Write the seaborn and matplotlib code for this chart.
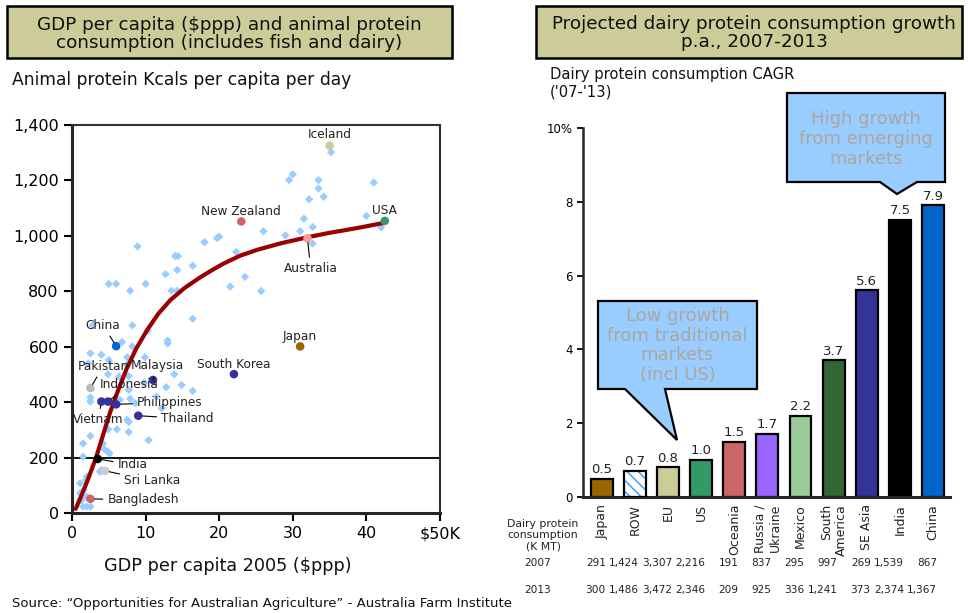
import matplotlib
matplotlib.use("Agg")
import matplotlib.pyplot as plt
import numpy as np
import pandas as pd
import seaborn as sns
from matplotlib.patches import Polygon, Rectangle
from matplotlib.ticker import FuncFormatter
from matplotlib.transforms import blended_transform_factory

# ---- left panel data: GDP per capita (K $ppp) vs animal protein kcals ----
bg_gdp = [35.2, 30.0, 29.5, 33.5, 33.5, 34.2, 32.2, 41.0, 40.0, 42.0, 31.5, 32.7,
          31.0, 29.0, 32.7, 26.0, 20.0, 19.7, 18.0, 22.3, 16.4, 23.5, 21.5, 25.7,
          8.9, 14.0, 14.4, 12.7, 14.3, 5.0, 6.0, 7.9, 10.0, 13.5, 14.3,
          16.4, 2.8, 8.2, 10.3, 13.0, 13.0, 6.8, 8.2, 2.5, 4.0, 5.0, 7.5, 9.9,
          4.9, 7.7, 13.9, 14.9, 16.4, 12.8, 12.2, 2.5, 2.5, 6.5, 7.9, 7.7, 8.6,
          7.5, 7.7, 4.9, 6.1, 7.7, 2.5, 1.5, 4.2, 4.4, 4.9, 5.1, 1.5, 10.4, 4.0,
          3.8, 2.0, 1.1, 1.9, 1.6, 1.1, 2.0, 1.3, 1.1, 1.5, 2.0, 2.5,
          6.4, 2.2, 7.5, 9.8, 11.5]
bg_kcal = [1302, 1222, 1201, 1201, 1171, 1141, 1132, 1192, 1072, 1031, 1062, 1032,
           1017, 1002, 972, 1017, 997, 992, 977, 942, 892, 852, 817, 801,
           962, 927, 927, 862, 877, 827, 827, 802, 827, 802, 802,
           701, 677, 677, 657, 622, 612, 617, 601, 576, 571, 552, 562, 562,
           501, 494, 501, 462, 441, 454, 378, 417, 402, 408, 412, 444, 396,
           336, 329, 302, 302, 292, 278, 251, 251, 230, 220, 215, 203, 263, 155,
           149, 131, 107, 119, 83, 71, 59, 47, 47, 23, 23, 23,
           492, 540, 534, 470, 420]

countries = ["Iceland", "New Zealand", "USA", "Australia", "Japan", "South Korea",
             "China", "Pakistan", "Malaysia", "Indonesia", "Vietnam", "Philippines",
             "Thailand", "India", "Sri Lanka", "Bangladesh"]
country_gdp = [35.0, 23.0, 42.5, 32.0, 31.0, 22.0, 6.0, 2.5, 11.0, 4.9, 4.0, 6.0,
               9.0, 3.5, 4.5, 2.5]
country_kcal = [1325, 1052, 1054, 991, 601, 501, 602, 451, 480, 402, 402, 392,
                351, 195, 152, 51]
country_colors = ["#cccc99", "#cc6666", "#339966", "#ff9999", "#996600", "#333399",
                  "#0066cc", "#bbbbbb", "#333399", "#333399", "#333399", "#333399",
                  "#333399", "#000000", "#cccccc", "#cc6666"]
# label offsets in pixels (dx, dy), alignment, and whether a leader line is drawn
label_dx = [0, 0, 0, 3, -1, 0, -13, 13, 4, 21, -3, 21, 23, 20, 19, 17]
label_dy = [11, 10, 10, -30, 10, 10, 21, 22, 14, 17, -18, 2, -3, -6, -10, -1]
label_ha = ["center"] * 11 + ["left"] * 5
label_leader = [False, False, False, True, False, False, True, True, True, True,
                True, True, True, True, True, True]

trend_gdp = [0.5, 1.2, 2.0, 2.6, 3.3, 4.2, 5.2, 6.3, 7.45, 8.7, 10.2, 11.7, 13.35,
             15.3, 17.4, 19.0, 20.6, 22.8, 25.2, 28.5, 32.0, 35.0, 37.0, 39.5, 42.4]
trend_kcal = [15, 58, 110, 152, 203, 280, 365, 445, 522, 592, 660, 718, 768,
              812, 850, 876, 900, 928, 950, 974, 995, 1011, 1020, 1032, 1047]

# ---- right panel data: dairy protein CAGR '07-'13 ----
regions = ["Japan", "ROW", "EU", "US", "Oceania", "Russia /\nUkraine", "Mexico",
           "South\nAmerica", "SE Asia", "India", "China"]
cagr = [0.5, 0.7, 0.8, 1.0, 1.5, 1.7, 2.2, 3.7, 5.6, 7.5, 7.9]
bar_colors = ["#996600", "#ffffff", "#cccc99", "#339966", "#cc6666", "#9966ff",
              "#99cc99", "#336633", "#333399", "#000000", "#0066cc"]
kmt_2007 = ["291", "1,424", "3,307", "2,216", "191", "837", "295", "997", "269",
            "1,539", "867"]
kmt_2013 = ["300", "1,486", "3,472", "2,346", "209", "925", "336", "1,241", "373",
            "2,374", "1,367"]

W, H = 968, 613
sns.set_theme(style="ticks")
plt.rcParams["font.family"] = ["DejaVu Sans"]
plt.rcParams["hatch.linewidth"] = 1.0
fig = plt.figure(figsize=(W / 100, H / 100), dpi=100)


def fx(x):
    return x / W


def fy(y):
    return 1 - y / H


# ================= left panel =================
ax = fig.add_axes([fx(72), fy(513), (440 - 72) / W, (513 - 125) / H])
sns.scatterplot(x=bg_gdp, y=bg_kcal, marker="D", s=18, color="#99ccff",
                edgecolor="none", ax=ax, zorder=2)
sns.lineplot(x=trend_gdp, y=trend_kcal, color="#990000", linewidth=3,
             estimator=None, ax=ax, zorder=3)
ax.axhline(200, color="black", linewidth=1.3, zorder=1)
sns.scatterplot(x=country_gdp, y=country_kcal, hue=countries,
                palette=dict(zip(countries, country_colors)), s=38,
                edgecolor="none", legend=False, ax=ax, zorder=4)
for name, gx, gy, dx, dy, ha, lead in zip(countries, country_gdp, country_kcal,
                                           label_dx, label_dy, label_ha, label_leader):
    ax.annotate(name, xy=(gx, gy), xytext=(dx, dy), textcoords="offset pixels",
                ha=ha, va="center", fontsize=8.7, color="#222222", zorder=5,
                arrowprops=dict(arrowstyle="-", color="black", lw=0.8,
                                shrinkA=1, shrinkB=3) if lead else None)

ax.set_xlim(0, 50)
ax.set_ylim(0, 1400)
ax.set_xticks([0, 10, 20, 30, 40, 50])
ax.set_xticklabels(["0", "10", "20", "30", "40", "$50K"])
ax.set_yticks(range(0, 1401, 200))
ax.yaxis.set_major_formatter(FuncFormatter(lambda v, p: f"{int(v):,}"))
ax.tick_params(axis="both", direction="out", length=6, width=1.5, labelsize=11.5,
               colors="black")
for s in ["left", "bottom"]:
    ax.spines[s].set_linewidth(2.2)
for s in ["top", "right"]:
    ax.spines[s].set_linewidth(1.5)
    ax.spines[s].set_color("#333333")
ax.set_xlabel("")
ax.set_ylabel("")

# ================= right panel =================
bx = fig.add_axes([fx(583), fy(497), (950 - 583) / W, (497 - 128) / H])
df = pd.DataFrame({"region": regions, "cagr": cagr})
sns.barplot(data=df, x="region", y="cagr", hue="region",
            palette=dict(zip(regions, bar_colors)), legend=False, width=0.66,
            edgecolor="black", linewidth=1.6, saturation=1, ax=bx)
row = bx.patches[1]
row.set_facecolor("white")
row.set_edgecolor("#3399ff")
row.set_hatch("\\\\\\")
row.set_linewidth(0)
bx.add_patch(Rectangle(row.get_xy(), row.get_width(), row.get_height(),
                       fill=False, edgecolor="black", linewidth=1.6, zorder=3))
for c in bx.containers:
    bx.bar_label(c, fmt="%.1f", padding=2, fontsize=9.5, color="#222222")

bx.set_xlim(-0.565, 10.51)
bx.set_ylim(0, 10)
bx.set_yticks([0, 2, 4, 6, 8, 10])
bx.set_yticklabels(["0", "2", "4", "6", "8", "10%"])
bx.set_xticks(range(len(regions)))
bx.set_xticklabels(regions, rotation=90, fontsize=9, multialignment="right",
                   color="#222222")
bx.tick_params(axis="x", length=0, pad=5)
bx.tick_params(axis="y", direction="out", length=4, width=1.3, labelsize=8.5,
               colors="black")
sns.despine(ax=bx)
bx.spines["left"].set_linewidth(1.8)
bx.spines["bottom"].set_linewidth(2.2)
bx.set_xlabel("")
bx.set_ylabel("")

# table under the bars
tbl = blended_transform_factory(bx.transData, fig.transFigure)
for i, (a, b) in enumerate(zip(kmt_2007, kmt_2013)):
    bx.text(i + 0.12, fy(563), a, transform=tbl, ha="right", va="center",
            fontsize=7.6, color="#222222")
    bx.text(i + 0.12, fy(590), b, transform=tbl, ha="right", va="center",
            fontsize=7.6, color="#222222")
fig.text(fx(543), fy(535), "Dairy protein\nconsumption\n(K MT)", ha="center",
         va="center", fontsize=7.8, color="#222222", linespacing=1.15)
fig.text(fx(538), fy(563), "2007", ha="center", va="center", fontsize=7.6,
         color="#222222")
fig.text(fx(538), fy(590), "2013", ha="center", va="center", fontsize=7.6,
         color="#222222")

# ================= titles and text =================
for x0, x1 in [(7, 452), (536, 962)]:
    fig.patches.append(Rectangle((fx(x0), fy(58)), (x1 - x0) / W, (58 - 6) / H,
                                 transform=fig.transFigure, facecolor="#cccc99",
                                 edgecolor="black", linewidth=1.8))
fig.text(fx(229.5), fy(34), "GDP per capita ($ppp) and animal protein\n"
         "consumption (includes fish and dairy)", ha="center", va="center",
         fontsize=13.2, color="#111111", linespacing=1.05)
fig.text(fx(754), fy(33), "Projected dairy protein consumption growth\n"
         "p.a., 2007-2013", ha="center", va="center", fontsize=13.2,
         color="#111111", linespacing=1.05)
fig.text(fx(12), fy(80), "Animal protein Kcals per capita per day", ha="left",
         va="center", fontsize=12.3, color="#111111")
fig.text(fx(228), fy(566), "GDP per capita 2005 ($ppp)", ha="center", va="center",
         fontsize=12.7, color="#111111")
fig.text(fx(12), fy(604), "Source: \u201cOpportunities for Australian Agriculture\u201d"
         " - Australia Farm Institute", ha="left", va="center", fontsize=9.5,
         color="#111111")
fig.text(fx(550), fy(83), "Dairy protein consumption CAGR\n('07-'13)", ha="left",
         va="center", fontsize=10.6, color="#111111", linespacing=1.2)

# ================= callouts =================
low_pts = [(598, 301), (757, 301), (757, 389), (665, 389), (677, 440), (625, 389),
           (598, 389)]
high_pts = [(787, 93), (945, 93), (945, 182), (917, 182), (897, 194), (880, 182),
            (787, 182)]
for pts in [low_pts, high_pts]:
    fig.patches.append(Polygon([(fx(x), fy(y)) for x, y in pts], closed=True,
                               transform=fig.transFigure, facecolor="#99ccff",
                               edgecolor="black", linewidth=1.6, zorder=5))
fig.text(fx(677.5), fy(345.5), "Low growth\nfrom traditional\nmarkets\n(incl US)",
         ha="center", va="center", fontsize=13, color="#aba79f", linespacing=1.12,
         zorder=6)
fig.text(fx(866), fy(139), "High growth\nfrom emerging\nmarkets", ha="center",
         va="center", fontsize=13, color="#aba79f", linespacing=1.12, zorder=6)

fig.savefig("out.png", dpi=100)
